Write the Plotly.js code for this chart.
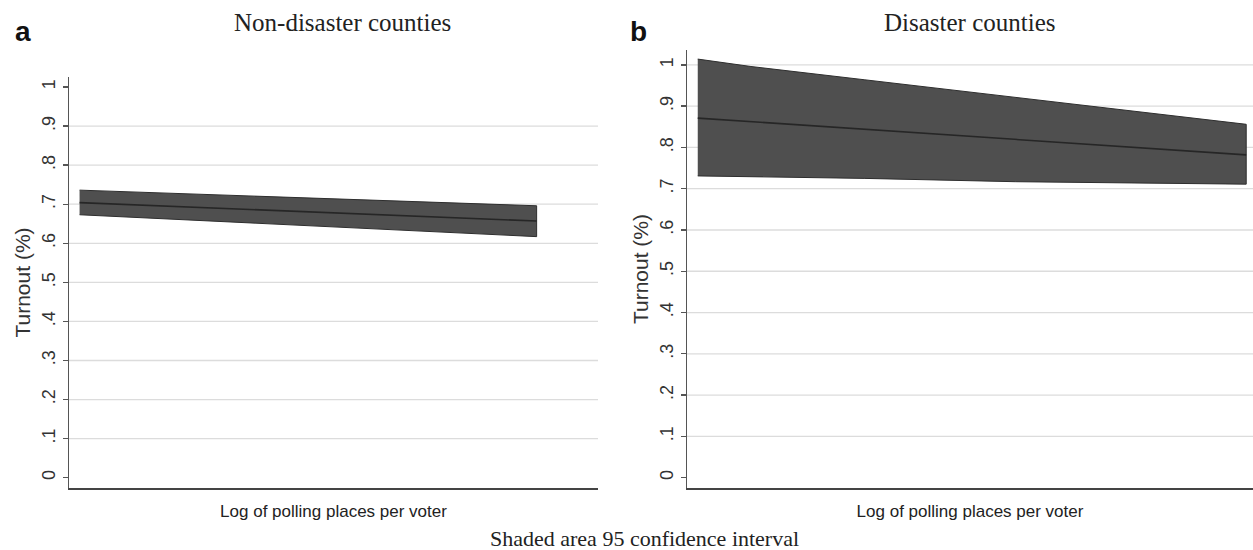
<!DOCTYPE html>
<html>
<head>
<meta charset="utf-8">
<script src="https://cdn.plot.ly/plotly-3.0.1.min.js"></script>
<style>html,body{margin:0;padding:0;background:#fff;}#chart{width:1253px;height:550px;}</style>
</head>
<body>
<div id="chart"></div>
<script>
// ---- Data ----
// x: position along "Log of polling places per voter" (no tick labels shown; normalized scale)
const xNonDisaster = [0.02, 0.884];
const upperNonDisaster = [0.736, 0.696];
const fitNonDisaster = [0.704, 0.657];
const lowerNonDisaster = [0.673, 0.617];

const xDisaster = [0.019, 0.113, 0.313, 0.580, 0.727, 0.988];
const upperDisaster = [1.014, 0.996, 0.964, 0.921, 0.897, 0.856];
const lowerDisaster = [0.731, 0.729, 0.725, 0.717, 0.714, 0.711];
const xFitDisaster = [0.019, 0.988];
const fitDisaster = [0.871, 0.782];

const tickVals = [0, 0.1, 0.2, 0.3, 0.4, 0.5, 0.6, 0.7, 0.8, 0.9, 1];
const tickText = ["0", ".1", ".2", ".3", ".4", ".5", ".6", ".7", ".8", ".9", "1"];
const gridNonDisaster = [0.1, 0.2, 0.3, 0.4, 0.5, 0.6, 0.7, 0.8, 0.9];
const gridDisaster = [0.1, 0.2, 0.3, 0.4, 0.5, 0.6, 0.7, 0.8, 0.9, 1];

const panelTitles = ["Non-disaster counties", "Disaster counties"];
const panelLetters = ["a", "b"];
const xTitle = "Log of polling places per voter";
const yTitle = "Turnout (%)";
const caption = "Shaded area 95 confidence interval";

// ---- Styling ----
const bandFill = "#4f4f4f";
const bandEdge = "#2e2e2e";
const sans = "Liberation Sans, Arial, sans-serif";
const serif = "Liberation Serif, Times New Roman, serif";

function band(x, up, lo, xa, ya) {
  const xs = x.concat(x.slice().reverse());
  const ys = up.concat(lo.slice().reverse());
  return {
    x: xs, y: ys, xaxis: xa, yaxis: ya, type: "scatter", mode: "lines",
    fill: "toself", fillcolor: bandFill,
    line: {color: bandEdge, width: 1}, hoverinfo: "skip", showlegend: false
  };
}
function fit(x, y, xa, ya) {
  return {x: x, y: y, xaxis: xa, yaxis: ya, type: "scatter", mode: "lines",
    line: {color: "#262626", width: 1.6}, showlegend: false};
}

const traces = [
  band(xNonDisaster, upperNonDisaster, lowerNonDisaster, "x", "y"),
  fit(xNonDisaster, fitNonDisaster, "x", "y"),
  band(xDisaster, upperDisaster, lowerDisaster, "x2", "y2"),
  fit(xFitDisaster, fitDisaster, "x2", "y2")
];

function yAxis(domain, range, anchor) {
  return {
    domain: domain, range: range, anchor: anchor,
    tickmode: "array", tickvals: tickVals, ticktext: tickText,
    tickangle: -90, ticks: "outside", ticklen: 5, tickwidth: 1.3, tickcolor: "#555",
    ticklabelstandoff: 0,
    tickfont: {family: sans, size: 18, color: "#333"},
    showgrid: false, zeroline: false, showline: true, linecolor: "#555", linewidth: 1.5,
    title: {text: yTitle, font: {family: sans, size: 21, color: "#333"}, standoff: 3},
    fixedrange: true
  };
}
function xAxis(domain, anchor) {
  return {
    domain: domain, range: [0, 1], anchor: anchor,
    showticklabels: false, ticks: "", showgrid: false, zeroline: false,
    showline: true, linecolor: "#444", linewidth: 2,
    title: {text: xTitle, font: {family: sans, size: 17, color: "#222"}, standoff: 16},
    fixedrange: true
  };
}

const shapes = [];
gridNonDisaster.forEach(v => shapes.push({type: "line", xref: "x domain", yref: "y",
  x0: 0, x1: 1, y0: v, y1: v, layer: "below", line: {color: "#dcdcdc", width: 1.3}}));
gridDisaster.forEach(v => shapes.push({type: "line", xref: "x2 domain", yref: "y2",
  x0: 0, x1: 1, y0: v, y1: v, layer: "below", line: {color: "#dcdcdc", width: 1.3}}));

const annotations = [
  {text: "<b>" + panelLetters[0] + "</b>", xref: "paper", yref: "paper", x: 23 / 1253, y: (550 - 31) / 550,
    xanchor: "center", yanchor: "middle", showarrow: false, font: {family: sans, size: 28, color: "#111"}},
  {text: "<b>" + panelLetters[1] + "</b>", xref: "paper", yref: "paper", x: 638 / 1253, y: (550 - 31) / 550,
    xanchor: "center", yanchor: "middle", showarrow: false, font: {family: sans, size: 28, color: "#111"}},
  {text: panelTitles[0], xref: "paper", yref: "paper", x: 342 / 1253, y: (550 - 22) / 550,
    xanchor: "center", yanchor: "middle", showarrow: false, font: {family: serif, size: 25, color: "#222"}},
  {text: panelTitles[1], xref: "paper", yref: "paper", x: 969 / 1253, y: (550 - 22) / 550,
    xanchor: "center", yanchor: "middle", showarrow: false, font: {family: serif, size: 25, color: "#222"}},
  {text: caption, xref: "paper", yref: "paper", x: 644 / 1253, y: (550 - 538) / 550,
    xanchor: "center", yanchor: "middle", showarrow: false, font: {family: serif, size: 22, color: "#222"}}
];

const layout = {
  width: 1253, height: 550,
  margin: {l: 0, r: 0, t: 0, b: 0},
  paper_bgcolor: "#fff", plot_bgcolor: "#fff",
  showlegend: false,
  xaxis: xAxis([69 / 1253, 598 / 1253], "y"),
  yaxis: yAxis([62 / 550, 473 / 550], [-0.0264, 1.0256], "x"),
  xaxis2: xAxis([687 / 1253, 1], "y2"),
  yaxis2: yAxis([62 / 550, 500 / 550], [-0.025, 1.036], "x2"),
  shapes: shapes,
  annotations: annotations
};

Plotly.newPlot("chart", traces, layout, {staticPlot: true, displayModeBar: false});
</script>
</body>
</html>
